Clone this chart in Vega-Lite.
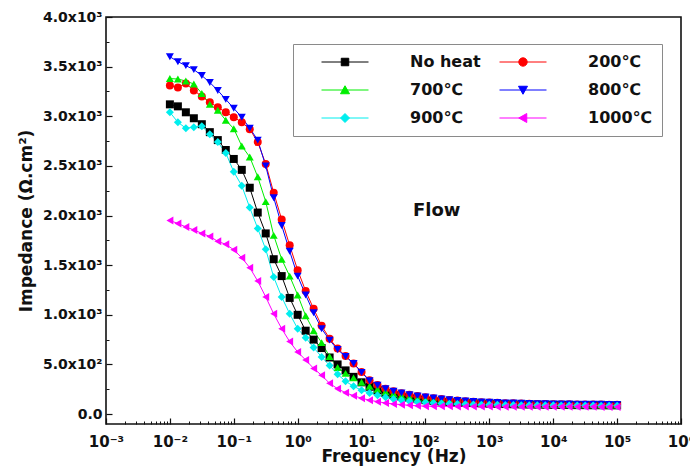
{
  "$schema": "https://vega.github.io/schema/vega-lite/v6.json",
  "width": 575,
  "height": 407,
  "autosize": {"type": "none"},
  "padding": {"left": 106, "top": 17, "right": 9, "bottom": 42},
  "background": "white",
  "config": {
    "view": {"stroke": "#111111", "strokeWidth": 1.6},
    "font": "DejaVu Sans",
    "axis": {
      "labelFont": "DejaVu Sans",
      "labelFontWeight": "bold",
      "labelColor": "#111111",
      "titleFont": "DejaVu Sans",
      "titleFontWeight": "bold",
      "titleColor": "#111111",
      "tickColor": "#111111",
      "domain": false,
      "grid": false
    }
  },
  "datasets": {
    "impedance": [
      {"f": 0.01, "No heat": 3120, "200℃": 3310, "700℃": 3380, "800℃": 3600, "900℃": 3040, "1000℃": 1950},
      {"f": 0.01334, "No heat": 3100, "200℃": 3290, "700℃": 3375, "800℃": 3550, "900℃": 2940, "1000℃": 1920},
      {"f": 0.01778, "No heat": 3040, "200℃": 3330, "700℃": 3355, "800℃": 3510, "900℃": 2880, "1000℃": 1885},
      {"f": 0.02371, "No heat": 2980, "200℃": 3260, "700℃": 3325, "800℃": 3470, "900℃": 2890, "1000℃": 1855},
      {"f": 0.03162, "No heat": 2920, "200℃": 3200, "700℃": 3230, "800℃": 3410, "900℃": 2900, "1000℃": 1820},
      {"f": 0.04217, "No heat": 2840, "200℃": 3140, "700℃": 3120, "800℃": 3340, "900℃": 2820, "1000℃": 1790},
      {"f": 0.05623, "No heat": 2760, "200℃": 3090, "700℃": 3060, "800℃": 3260, "900℃": 2740, "1000℃": 1740},
      {"f": 0.07499, "No heat": 2660, "200℃": 3040, "700℃": 2960, "800℃": 3170, "900℃": 2630, "1000℃": 1710},
      {"f": 0.1, "No heat": 2570, "200℃": 2990, "700℃": 2875, "800℃": 3080, "900℃": 2440, "1000℃": 1655},
      {"f": 0.1334, "No heat": 2460, "200℃": 2940, "700℃": 2700, "800℃": 2990, "900℃": 2300, "1000℃": 1575},
      {"f": 0.1778, "No heat": 2280, "200℃": 2870, "700℃": 2590, "800℃": 2880, "900℃": 2080, "1000℃": 1475},
      {"f": 0.2371, "No heat": 2030, "200℃": 2740, "700℃": 2390, "800℃": 2760, "900℃": 1870, "1000℃": 1340},
      {"f": 0.3162, "No heat": 1820, "200℃": 2520, "700℃": 2140, "800℃": 2500, "900℃": 1660, "1000℃": 1180},
      {"f": 0.4217, "No heat": 1560, "200℃": 2230, "700℃": 1800, "800℃": 2180, "900℃": 1380, "1000℃": 1010},
      {"f": 0.5623, "No heat": 1390, "200℃": 1960, "700℃": 1560, "800℃": 1900, "900℃": 1180, "1000℃": 860},
      {"f": 0.7499, "No heat": 1170, "200℃": 1700, "700℃": 1390, "800℃": 1640, "900℃": 1010, "1000℃": 730},
      {"f": 1, "No heat": 1000, "200℃": 1450, "700℃": 1200, "800℃": 1390, "900℃": 860, "1000℃": 625},
      {"f": 1.334, "No heat": 840, "200℃": 1240, "700℃": 990, "800℃": 1200, "900℃": 770, "1000℃": 545},
      {"f": 1.778, "No heat": 750, "200℃": 1060, "700℃": 840, "800℃": 1020, "900℃": 670, "1000℃": 460},
      {"f": 2.371, "No heat": 665, "200℃": 890, "700℃": 720, "800℃": 860, "900℃": 575, "1000℃": 390},
      {"f": 3.162, "No heat": 570, "200℃": 760, "700℃": 580, "800℃": 745, "900℃": 490, "1000℃": 310},
      {"f": 4.217, "No heat": 500, "200℃": 660, "700℃": 470, "800℃": 650, "900℃": 400, "1000℃": 255},
      {"f": 5.623, "No heat": 440, "200℃": 585, "700℃": 410, "800℃": 580, "900℃": 330, "1000℃": 215},
      {"f": 7.499, "No heat": 375, "200℃": 510, "700℃": 365, "800℃": 510, "900℃": 280, "1000℃": 185},
      {"f": 10, "No heat": 320, "200℃": 425, "700℃": 320, "800℃": 420, "900℃": 240, "1000℃": 160},
      {"f": 13.34, "No heat": 275, "200℃": 340, "700℃": 280, "800℃": 335, "900℃": 212, "1000℃": 140},
      {"f": 17.78, "No heat": 240, "200℃": 292, "700℃": 250, "800℃": 290, "900℃": 190, "1000℃": 125},
      {"f": 23.71, "No heat": 212, "200℃": 256, "700℃": 225, "800℃": 255, "900℃": 170, "1000℃": 112},
      {"f": 31.62, "No heat": 192, "200℃": 230, "700℃": 205, "800℃": 230, "900℃": 152, "1000℃": 102},
      {"f": 42.17, "No heat": 175, "200℃": 210, "700℃": 185, "800℃": 212, "900℃": 140, "1000℃": 95},
      {"f": 56.23, "No heat": 162, "200℃": 194, "700℃": 172, "800℃": 196, "900℃": 130, "1000℃": 88},
      {"f": 74.99, "No heat": 150, "200℃": 181, "700℃": 160, "800℃": 183, "900℃": 122, "1000℃": 83},
      {"f": 100, "No heat": 140, "200℃": 170, "700℃": 150, "800℃": 172, "900℃": 116, "1000℃": 80},
      {"f": 133.4, "No heat": 133, "200℃": 160, "700℃": 142, "800℃": 162, "900℃": 111, "1000℃": 79},
      {"f": 177.8, "No heat": 127, "200℃": 151, "700℃": 135, "800℃": 153, "900℃": 107, "1000℃": 78},
      {"f": 237.1, "No heat": 122, "200℃": 143, "700℃": 129, "800℃": 145, "900℃": 104, "1000℃": 78},
      {"f": 316.2, "No heat": 118, "200℃": 136, "700℃": 124, "800℃": 138, "900℃": 101, "1000℃": 77},
      {"f": 421.7, "No heat": 114, "200℃": 130, "700℃": 120, "800℃": 132, "900℃": 99, "1000℃": 77},
      {"f": 562.3, "No heat": 111, "200℃": 125, "700℃": 116, "800℃": 127, "900℃": 97, "1000℃": 76},
      {"f": 749.9, "No heat": 108, "200℃": 120, "700℃": 113, "800℃": 123, "900℃": 95, "1000℃": 76},
      {"f": 1000, "No heat": 105, "200℃": 116, "700℃": 110, "800℃": 119, "900℃": 94, "1000℃": 76},
      {"f": 1334, "No heat": 103, "200℃": 113, "700℃": 107, "800℃": 116, "900℃": 93, "1000℃": 75},
      {"f": 1778, "No heat": 101, "200℃": 110, "700℃": 105, "800℃": 113, "900℃": 92, "1000℃": 75},
      {"f": 2371, "No heat": 99, "200℃": 108, "700℃": 103, "800℃": 111, "900℃": 91, "1000℃": 75},
      {"f": 3162, "No heat": 97, "200℃": 106, "700℃": 101, "800℃": 109, "900℃": 90, "1000℃": 74},
      {"f": 4217, "No heat": 96, "200℃": 104, "700℃": 99, "800℃": 107, "900℃": 89, "1000℃": 74},
      {"f": 5623, "No heat": 95, "200℃": 102, "700℃": 98, "800℃": 105, "900℃": 89, "1000℃": 74},
      {"f": 7499, "No heat": 94, "200℃": 101, "700℃": 97, "800℃": 104, "900℃": 88, "1000℃": 74},
      {"f": 10000, "No heat": 93, "200℃": 100, "700℃": 96, "800℃": 103, "900℃": 88, "1000℃": 74},
      {"f": 13340, "No heat": 92, "200℃": 99, "700℃": 95, "800℃": 102, "900℃": 87, "1000℃": 73},
      {"f": 17780, "No heat": 91, "200℃": 98, "700℃": 94, "800℃": 101, "900℃": 87, "1000℃": 73},
      {"f": 23710, "No heat": 90, "200℃": 97, "700℃": 94, "800℃": 100, "900℃": 86, "1000℃": 73},
      {"f": 31620, "No heat": 90, "200℃": 97, "700℃": 93, "800℃": 100, "900℃": 86, "1000℃": 73},
      {"f": 42170, "No heat": 89, "200℃": 96, "700℃": 93, "800℃": 99, "900℃": 86, "1000℃": 73},
      {"f": 56230, "No heat": 89, "200℃": 96, "700℃": 92, "800℃": 99, "900℃": 85, "1000℃": 72},
      {"f": 74990, "No heat": 88, "200℃": 95, "700℃": 92, "800℃": 98, "900℃": 85, "1000℃": 72},
      {"f": 100000, "No heat": 88, "200℃": 95, "700℃": 92, "800℃": 98, "900℃": 85, "1000℃": 72}
    ],
    "note": [{"label": "Flow"}]
  },
  "layer": [
    {
      "data": {"name": "impedance"},
      "transform": [{"fold": ["No heat", "200℃", "700℃", "800℃", "900℃", "1000℃"], "as": ["series", "z"]}],
      "mark": {"type": "line", "strokeWidth": 1},
      "encoding": {
        "x": {
          "field": "f", "type": "quantitative",
          "scale": {"type": "log", "domain": [0.001, 1000000]},
          "axis": {
            "orient": "bottom",
            "values": [0.001, 0.01, 0.1, 1, 10, 100, 1000, 10000, 100000, 1000000],
            "labelExpr": "'10' + ['⁻³','⁻²','⁻¹','⁰','¹','²','³','⁴','⁵','⁶'][round(log(datum.value) / LN10) + 3]",
            "labelFontSize": 15,
            "labelFlush": false,
            "labelOverlap": false,
            "tickSize": -6,
            "tickWidth": 1.2,
            "labelPadding": 16,
            "title": "Frequency (Hz)",
            "titleFontSize": 17,
            "titlePadding": -1
          }
        },
        "y": {
          "field": "z", "type": "quantitative",
          "scale": {"domain": [-100, 4000], "nice": false, "zero": false},
          "axis": {
            "orient": "left",
            "values": [0, 500, 1000, 1500, 2000, 2500, 3000, 3500, 4000],
            "labelExpr": "datum.value == 0 ? '0.0' : datum.value < 1000 ? format(datum.value / 100, '.1f') + 'x10²' : format(datum.value / 1000, '.1f') + 'x10³'",
            "labelFontSize": 14,
            "labelFlush": false,
            "labelOverlap": false,
            "tickSize": -6,
            "tickWidth": 1.2,
            "labelPadding": 10,
            "title": "Impedance (Ω.cm²)",
            "titleFontSize": 17,
            "titlePadding": 7
          }
        },
        "color": {
          "field": "series", "type": "nominal",
          "scale": {
            "domain": ["No heat", "200℃", "700℃", "800℃", "900℃", "1000℃"],
            "range": ["#000000", "#ff0000", "#00ee00", "#0000ff", "#00eeee", "#ff00ff"]
          }
        }
      }
    },
    {
      "data": {"name": "impedance"},
      "transform": [{"fold": ["No heat", "200℃", "700℃", "800℃", "900℃", "1000℃"], "as": ["series", "z"]}],
      "mark": {
        "type": "point", "filled": true, "opacity": 1, "size": 64,
        "shape": {"expr": "['square','circle','triangle-up','triangle-down','diamond','triangle-left'][indexof(['No heat','200℃','700℃','800℃','900℃','1000℃'], datum.series)]"}
      },
      "encoding": {
        "x": {
          "field": "f", "type": "quantitative",
          "scale": {"type": "log", "domain": [0.001, 1000000]},
          "axis": {
            "orient": "bottom",
            "values": [0.002, 0.003, 0.004, 0.005, 0.006, 0.007, 0.008, 0.009,
                       0.02, 0.03, 0.04, 0.05, 0.06, 0.07, 0.08, 0.09,
                       0.2, 0.3, 0.4, 0.5, 0.6, 0.7, 0.8, 0.9,
                       2, 3, 4, 5, 6, 7, 8, 9,
                       20, 30, 40, 50, 60, 70, 80, 90,
                       200, 300, 400, 500, 600, 700, 800, 900,
                       2000, 3000, 4000, 5000, 6000, 7000, 8000, 9000,
                       20000, 30000, 40000, 50000, 60000, 70000, 80000, 90000,
                       200000, 300000, 400000, 500000, 600000, 700000, 800000, 900000],
            "labels": false,
            "tickSize": -3,
            "tickWidth": 1,
            "title": null
          }
        },
        "y": {
          "field": "z", "type": "quantitative",
          "scale": {"domain": [-100, 4000], "nice": false, "zero": false},
          "axis": {
            "orient": "left",
            "values": [250, 750, 1250, 1750, 2250, 2750, 3250, 3750],
            "labels": false,
            "tickSize": -3,
            "tickWidth": 1,
            "title": null
          }
        },
        "color": {
          "field": "series", "type": "nominal",
          "scale": {
            "domain": ["No heat", "200℃", "700℃", "800℃", "900℃", "1000℃"],
            "range": ["#000000", "#ff0000", "#00ee00", "#0000ff", "#00eeee", "#ff00ff"]
          }
        }
      }
    },
    {
      "data": {"name": "impedance"},
      "transform": [
        {"fold": ["No heat", "200℃", "700℃", "800℃", "900℃", "1000℃"], "as": ["series", "z"]},
        {"filter": "false"}
      ],
      "mark": {"type": "point", "filled": true, "opacity": 1},
      "encoding": {
        "color": {
          "field": "series", "type": "nominal",
          "scale": {
            "domain": ["No heat", "200℃", "700℃", "800℃", "900℃", "1000℃"],
            "range": ["#000000", "#ff0000", "#00ee00", "#0000ff", "#00eeee", "#ff00ff"]
          },
          "legend": {
            "title": null,
            "orient": "none",
            "direction": "horizontal",
            "legendX": 187,
            "legendY": 27,
            "columns": 2,
            "columnPadding": -3,
            "rowPadding": 12,
            "padding": 10,
            "strokeColor": "#8a8a8a",
            "fillColor": "white",
            "symbolSize": 100,
            "symbolStrokeWidth": 1,
            "symbolOffset": 34,
            "labelOffset": 57,
            "labelFont": "DejaVu Sans",
            "labelFontSize": 16,
            "labelFontWeight": "bold",
            "labelColor": "#111111",
            "labelLimit": 300
          }
        },
        "shape": {
          "field": "series", "type": "nominal",
          "scale": {
            "domain": ["No heat", "200℃", "700℃", "800℃", "900℃", "1000℃"],
            "range": [
              "M-8.1,0M21.6,0M-4.7,0H4.7M-0.75,-0.75H0.75V0.75H-0.75Z",
              "M-8.1,0M21.6,0M-4.7,0H4.7M0.84,0A0.84,0.84,0,1,1,-0.84,0A0.84,0.84,0,1,1,0.84,0Z",
              "M-8.1,0M21.6,0M-4.7,0H4.7M0,-0.85L0.9,0.75H-0.9Z",
              "M-8.1,0M21.6,0M-4.7,0H4.7M0,0.85L0.9,-0.75H-0.9Z",
              "M-8.1,0M21.6,0M-4.7,0H4.7M0,-0.9L0.9,0L0,0.9L-0.9,0Z",
              "M-8.1,0M21.6,0M-4.7,0H4.7M-0.85,0L0.75,-0.9V0.9Z"
            ]
          }
        }
      }
    },
    {
      "data": {"name": "note"},
      "mark": {"type": "text", "font": "DejaVu Sans", "fontSize": 18, "fontWeight": "bold", "color": "#111111", "align": "center", "baseline": "middle"},
      "encoding": {
        "x": {"datum": 150, "type": "quantitative", "scale": {"type": "log", "domain": [0.001, 1000000]}, "axis": null},
        "y": {"datum": 2050, "type": "quantitative", "scale": {"domain": [-100, 4000], "nice": false, "zero": false}, "axis": null},
        "text": {"field": "label"}
      }
    }
  ],
  "resolve": {"axis": {"x": "independent", "y": "independent"}}
}
